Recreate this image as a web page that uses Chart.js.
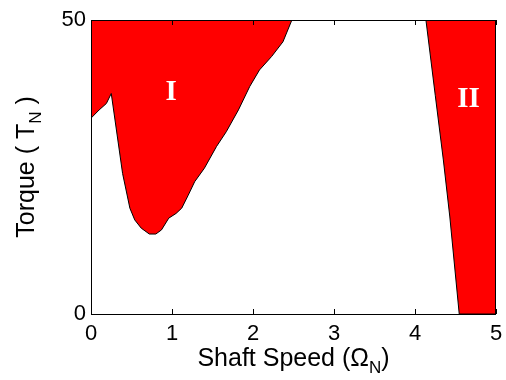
<!DOCTYPE html>
<html>
<head>
<meta charset="utf-8">
<script src="https://cdn.jsdelivr.net/npm/chart.js@4.4.1/dist/chart.umd.min.js"></script>
<style>
  html, body { margin: 0; padding: 0; background: #fff; }
  #wrap { width: 506px; height: 380px; }
</style>
</head>
<body>
<div id="wrap"><canvas id="c" width="506" height="380"></canvas></div>
<script>
// region I boundary (shaft speed, torque)
const speedI = [0, 0.10, 0.19, 0.25, 0.39, 0.48, 0.54, 0.62, 0.72, 0.80, 0.87, 0.96, 1.05, 1.12, 1.20, 1.28, 1.40, 1.55, 1.67, 1.82, 1.96, 2.08, 2.23, 2.37, 2.48];
const torqueI = [33.3, 34.7, 35.8, 37.5, 23.9, 18.0, 16.0, 14.6, 13.6, 13.6, 14.3, 16.3, 17.1, 18.0, 20.2, 22.5, 24.8, 28.5, 31.0, 34.7, 38.7, 41.5, 43.8, 46.3, 50];

// region II boundary
const speedII = [4.135, 4.25, 4.35, 4.43, 4.546, 5];
const torqueII = [50, 37.2, 26.2, 16.5, 0, 0];

const xTicks = [0, 1, 2, 3, 4, 5];
const yTicks = [0, 50];

const regionLabels = [
  { text: 'I', x: 0.99, y: 37.6 },
  { text: 'II', x: 4.66, y: 36.4 }
];

const toPoints = (xs, ys) => xs.map((x, i) => ({ x: x, y: ys[i] }));

const fontSans = '"Liberation Sans", Arial, sans-serif';

// MATLAB style box, inward ticks, axis titles and region labels
const decor = {
  id: 'decor',
  afterDatasetsDraw(chart) {
    const ctx = chart.ctx;
    const a = chart.chartArea;
    const xs = chart.scales.x, ys = chart.scales.y;
    ctx.save();

    // region labels
    ctx.fillStyle = '#fff';
    ctx.font = 'bold 29px "Liberation Serif", "Times New Roman", serif';
    ctx.textAlign = 'center';
    ctx.textBaseline = 'middle';
    regionLabels.forEach(l => {
      ctx.fillText(l.text, xs.getPixelForValue(l.x), ys.getPixelForValue(l.y));
    });

    // box
    ctx.strokeStyle = '#000';
    ctx.lineWidth = 1;
    ctx.strokeRect(a.left + 0.5, a.top + 0.5, a.right - a.left - 1, a.bottom - a.top);

    // inward ticks
    ctx.beginPath();
    xTicks.forEach(v => {
      const px = Math.round(xs.getPixelForValue(v)) + 0.5;
      ctx.moveTo(px, a.bottom); ctx.lineTo(px, a.bottom - 5);
      ctx.moveTo(px, a.top); ctx.lineTo(px, a.top + 5);
    });
    ctx.stroke();

    // axis titles
    ctx.fillStyle = '#000';
    ctx.textAlign = 'left';
    ctx.textBaseline = 'alphabetic';
    const big = '25px ' + fontSans, small = '17px ' + fontSans;

    function drawTitle(parts, cx, baseY) {
      let total = 0;
      parts.forEach(p => { ctx.font = p.sub ? small : big; p.w = ctx.measureText(p.t).width; total += p.w; });
      let x = cx - total / 2;
      parts.forEach(p => {
        ctx.font = p.sub ? small : big;
        ctx.fillText(p.t, x, baseY + (p.sub ? 7 : 0));
        x += p.w;
      });
    }

    drawTitle([{ t: 'Shaft Speed (\u03A9' }, { t: 'N', sub: true }, { t: ')' }], (a.left + a.right) / 2, 366);

    ctx.translate(34, (a.top + a.bottom) / 2);
    ctx.rotate(-Math.PI / 2);
    drawTitle([{ t: 'Torque ( T' }, { t: 'N', sub: true }, { t: ' )' }], 0, 0);

    ctx.restore();
  }
};

new Chart(document.getElementById('c'), {
  type: 'scatter',
  data: {
    datasets: [
      {
        data: toPoints(speedI, torqueI),
        showLine: true,
        fill: 'end',
        backgroundColor: '#ff0000',
        borderColor: '#000',
        borderWidth: 1,
        pointRadius: 0,
        tension: 0
      },
      {
        data: toPoints(speedII, torqueII),
        showLine: true,
        fill: 'end',
        backgroundColor: '#ff0000',
        borderColor: '#000',
        borderWidth: 1,
        pointRadius: 0,
        tension: 0
      }
    ]
  },
  options: {
    responsive: false,
    animation: false,
    layout: { padding: { left: 0, top: 20, right: 0, bottom: 0 } },
    plugins: { legend: { display: false }, tooltip: { enabled: false } },
    scales: {
      x: {
        type: 'linear',
        min: 0, max: 5,
        grid: { display: false, drawTicks: false },
        border: { display: false },
        afterBuildTicks: s => { s.ticks = xTicks.map(v => ({ value: v })); },
        afterFit: s => { s.height = 66; s.paddingRight = 10; },
        ticks: { color: '#000', padding: 7, font: { family: fontSans, size: 22 } }
      },
      y: {
        type: 'linear',
        min: 0, max: 50,
        grid: { display: false, drawTicks: false },
        border: { display: false },
        afterBuildTicks: s => { s.ticks = yTicks.map(v => ({ value: v })); },
        afterFit: s => { s.width = 91; },
        ticks: { color: '#000', padding: 5, font: { family: fontSans, size: 22 } }
      }
    }
  },
  plugins: [decor]
});
</script>
</body>
</html>
